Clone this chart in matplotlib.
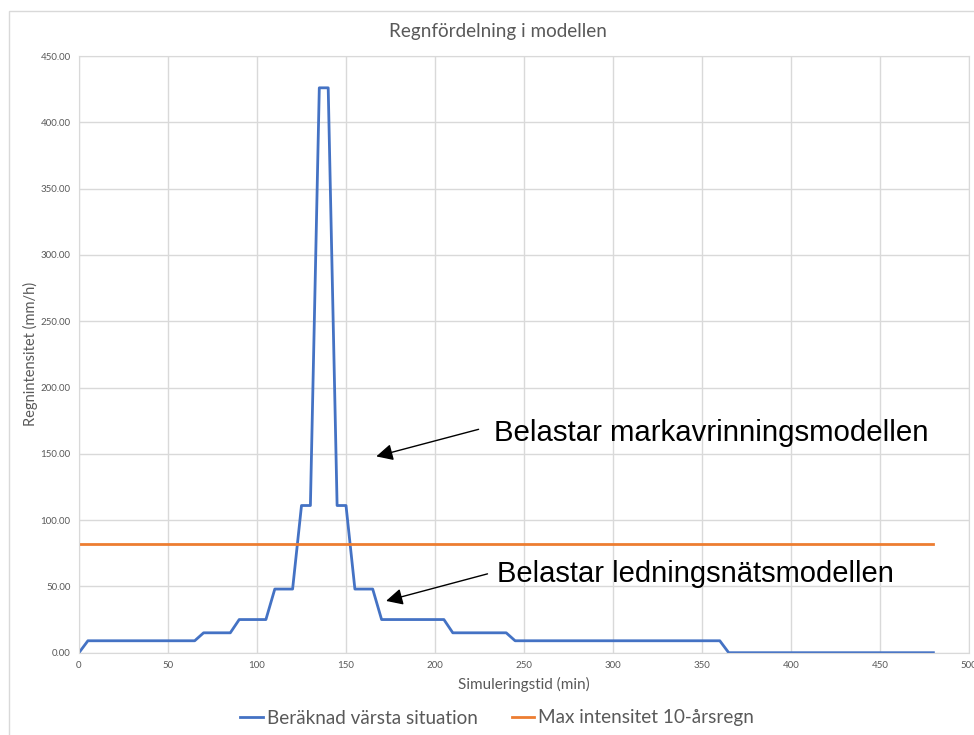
import matplotlib
matplotlib.use('Agg')
import matplotlib.pyplot as plt
from matplotlib.patches import Rectangle

# Rain series, 5 minute steps (only the breakpoints of the step profile)
tid = [0, 5, 65, 70, 85, 90, 105, 110, 120, 125, 130, 135, 140, 145, 150,
       155, 165, 170, 205, 210, 240, 245, 360, 365, 480]
intensitet = [0, 9, 9, 15, 15, 25, 25, 48, 48, 111, 111, 426, 426, 111, 111,
              48, 48, 25, 25, 15, 15, 9, 9, 0, 0]

# Max intensity for a 10-year rain
max_tid = [0, 480]
max_intensitet = [82, 82]

xticks = [0, 50, 100, 150, 200, 250, 300, 350, 400, 450, 500]
yticks = [0, 50, 100, 150, 200, 250, 300, 350, 400, 450]

blue = '#4472C4'
orange = '#ED7D31'
grid = '#D9D9D9'
label_grey = '#595959'

plt.rcParams['font.family'] = ['Lato', 'DejaVu Sans']

fig = plt.figure(figsize=(9.74, 7.35), dpi=100)
ax = fig.add_axes([79 / 974, 1 - 652.7 / 735, 890 / 974, 596.7 / 735])

# outer chart border
fig.add_artist(Rectangle((9 / 974, -0.05), 1.05, 1 - 11 / 735 + 0.05,
                         transform=fig.transFigure, fill=False,
                         edgecolor=grid, linewidth=1))

ax.plot(tid, intensitet, color=blue, linewidth=2, label='Beräknad värsta situation')
ax.plot(max_tid, max_intensitet, color=orange, linewidth=2, label='Max intensitet 10-årsregn')

ax.set_xlim(0, 500)
ax.set_ylim(0, 450)
ax.set_xticks(xticks)
ax.set_yticks(yticks)
ax.set_yticklabels(['%.2f' % v for v in yticks])
ax.tick_params(length=0, labelsize=7, labelcolor=label_grey, pad=6)
ax.grid(True, color=grid, linewidth=1)
ax.set_axisbelow(True)
for s in ax.spines.values():
    s.set_color(grid)

fig.text(498 / 974, 1 - 32 / 735, 'Regnfördelning i modellen', fontsize=13.6,
         color=label_grey, ha='center', va='center')
ax.set_xlabel('Simuleringstid (min)', fontsize=11, color=label_grey, labelpad=5)
ax.set_ylabel('Regnintensitet (mm/h)', fontsize=10.5, color=label_grey, labelpad=2)

fig.legend(loc='center', bbox_to_anchor=(497 / 974, 1 - 718 / 735), ncol=2,
           frameon=False, fontsize=13.6, labelcolor=label_grey, handlelength=1.2,
           handletextpad=0.2, columnspacing=1.8)

arrow = dict(arrowstyle='-|>', color='black', linewidth=1, mutation_scale=25)
ax.annotate('', xy=(165.5, 147.5), xytext=(226, 169), arrowprops=arrow)
ax.text(233, 166, 'Belastar markavrinningsmodellen', fontsize=21.2,
        family='Liberation Sans', va='center', ha='left')
ax.annotate('', xy=(171, 38.5), xytext=(231, 60), arrowprops=arrow)
ax.text(235, 59, 'Belastar ledningsnätsmodellen', fontsize=21,
        family='Liberation Sans', va='center', ha='left')

fig.savefig('out.png', dpi=100)
